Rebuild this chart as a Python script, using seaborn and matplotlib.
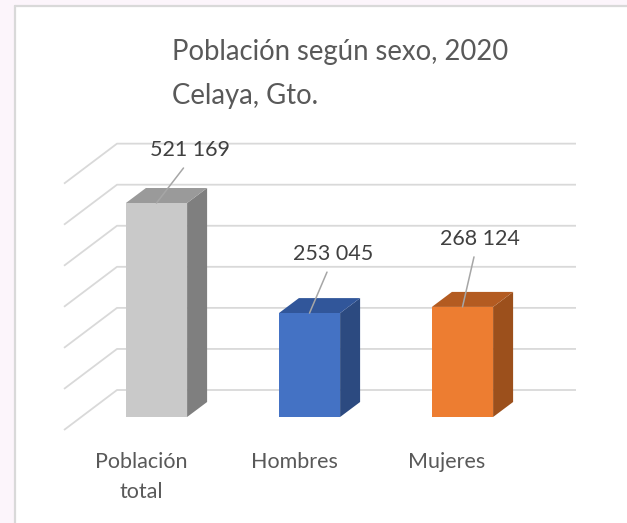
import matplotlib
matplotlib.use("Agg")
import matplotlib.pyplot as plt
from matplotlib.patches import Polygon, Rectangle
from matplotlib.lines import Line2D
import seaborn as sns

# data
categories = ["Población\ntotal", "Hombres", "Mujeres"]
values = [521169, 253045, 268124]
value_labels = ["521 169", "253 045", "268 124"]
grid_values = [0, 100000, 200000, 300000, 400000, 500000, 600000]

front_colours = ["#c9c9c9", "#4472c4", "#ed7d31"]
side_colours = ["#7f7f7f", "#2c4a80", "#9c501c"]
top_colours = ["#9a9a9a", "#31569a", "#b35b21"]

W, H = 627, 523
PX_X = 153.0          # pixels per category step
PX_V = 0.0004106      # pixels per unit of value
X0, Y0 = 156.5, 417   # pixel of category 0, value 0 (front face)

def dx(px):
    return px / PX_X

def dv(px):
    return px / PX_V

sns.set_style("white")
plt.rcParams["font.family"] = ["Lato", "DejaVu Sans"]

fig = plt.figure(figsize=(W / 100, H / 100), dpi=100, facecolor="#fcf5fb")
# white chart area with grey left/top border
fig.patches.append(Rectangle((15 / W, 0), 1 - 15 / W, 1 - 6 / H,
                             transform=fig.transFigure, facecolor="white",
                             edgecolor="none", zorder=-5))
fig.lines.append(Line2D([15.5 / W, 15.5 / W], [0, 1 - 5.5 / H], transform=fig.transFigure,
                        color="#d9d9d9", lw=1.6))
fig.lines.append(Line2D([15 / W, 1], [1 - 5.5 / H, 1 - 5.5 / H], transform=fig.transFigure,
                        color="#d9d9d9", lw=1.6))

ax = fig.add_axes([0, 0, 1, 1])
ax.patch.set_alpha(0)

sns.barplot(x=categories, y=values, hue=categories, palette=front_colours,
            width=0.4, saturation=1, legend=False, ax=ax, zorder=3,
            edgecolor="none", linewidth=0)

ax.set_xlim(-X0 / PX_X, (W - X0) / PX_X)
ax.set_ylim(-dv(H - Y0), dv(Y0))
ax.axis("off")

# walls: back wall gridlines + side wall diagonals
back_x0, back_x1, front_x = dx(117 - X0), dx(576 - X0), dx(64 - X0)
back_dy, front_dy = dv(27), dv(-13)
for v in grid_values:
    ax.plot([front_x, back_x0, back_x1], [v + front_dy, v + back_dy, v + back_dy],
            color="#d9d9d9", lw=1.3, zorder=0, solid_capstyle="butt")

# 3d faces of the bars
ddx, ddy = dx(20), dv(15)
for bar, sc, tc in zip(ax.patches, side_colours, top_colours):
    x0 = bar.get_x()
    x1 = x0 + bar.get_width()
    h = bar.get_height()
    ax.add_patch(Polygon([(x1, 0), (x1 + ddx, ddy), (x1 + ddx, h + ddy), (x1, h)],
                         facecolor=sc, edgecolor="none", zorder=2))
    ax.add_patch(Polygon([(x0, h), (x1, h), (x1 + ddx, h + ddy), (x0 + ddx, h + ddy)],
                         facecolor=tc, edgecolor="none", zorder=2))

# data labels with leader lines (label offsets in pixels)
label_offsets = [(33, 53), (23.5, 59), (17.5, 68)]
for i, (v, lab) in enumerate(zip(values, value_labels)):
    ox, oy = label_offsets[i]
    lx, ly = i + dx(ox), v + dv(oy)
    ax.text(lx, ly, lab, ha="center", va="center", fontsize=15.5, color="#404040")
    ax.plot([i, lx + dx(-6)], [v, ly - dv(18)], color="#a6a6a6", lw=1.1, zorder=4)

# category labels
for i, cat in enumerate(categories):
    ax.text(i + dx(-15.5), -dv(452 - Y0), cat, ha="center", va="top",
            fontsize=15.5, color="#595959", linespacing=1.6)

# title
fig.text(172 / W, 1 - 60 / H, "Población según sexo, 2020", ha="left", va="baseline",
         fontsize=19.8, color="#595959")
fig.text(172 / W, 1 - 104 / H, "Celaya, Gto.", ha="left", va="baseline",
         fontsize=19.8, color="#595959")

fig.savefig("out.png", dpi=100, facecolor=fig.get_facecolor())
